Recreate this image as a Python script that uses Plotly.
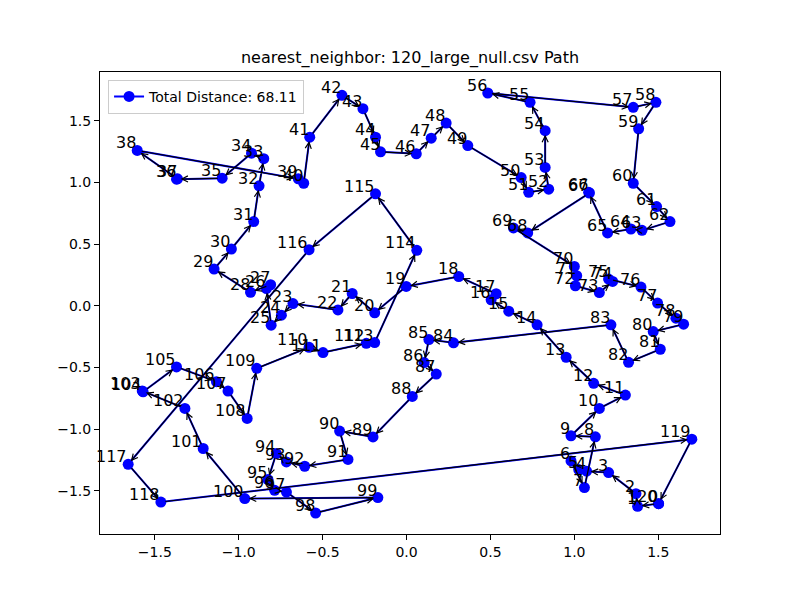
import plotly.graph_objects as go

# tour order (nearest neighbour), coordinates
xs = [1.502, 1.377, 1.367, 1.204, 1.073, 1.026, 0.98, 1.06, 1.125, 0.98,
      1.149, 1.304, 1.115, 0.951, 0.778, 0.609, 0.504, 0.534, 0.311, -0.002,
      -0.19, -0.324, -0.409, -0.677, -0.746, -0.807, -0.835, -0.81, -0.93, -1.147,
      -1.044, -0.911, -0.879, -0.851, -0.924, -1.099, -1.371, -1.365, -1.605, -0.645,
      -0.613, -0.577, -0.385, -0.26, -0.185, -0.155, 0.058, 0.147, 0.236, 0.365,
      0.683, 0.728, 0.847, 0.826, 0.826, 0.736, 0.484, 1.351, 1.486, 1.383,
      1.351, 1.49, 1.57, 1.403, 1.337, 1.198, 1.085, 1.09, 0.722, 0.637,
      1.0, 1.014, 1.006, 1.149, 1.228, 1.204, 1.397, 1.496, 1.605, 1.651,
      1.47, 1.512, 1.323, 1.218, 0.28, 0.133, 0.105, 0.177, 0.034, -0.2,
      -0.399, -0.349, -0.607, -0.716, -0.776, -0.826, -0.786, -0.716, -0.542, -0.171,
      -0.964, -1.212, -1.321, -1.575, -1.57, -1.371, -1.133, -1.064, -0.95, -0.893,
      -0.581, -0.498, -0.24, -0.19, 0.061, -0.185, -0.581, -1.659, -1.464, 1.70]
ys = [-1.604, -1.626, -1.523, -1.352, -1.341, -1.328, -1.258, -1.474, -1.062, -1.054,
      -0.832, -0.724, -0.628, -0.417, -0.154, -0.043, 0.049, 0.098, 0.238, 0.157,
      -0.056, 0.10, -0.033, 0.018, -0.076, -0.157, 0.14, 0.171, 0.11, 0.298,
      0.461, 0.683, 0.973, 1.193, 1.238, 1.035, 1.027, 1.03, 1.26, 1.03,
      0.994, 1.368, 1.707, 1.599, 1.368, 1.249, 1.233, 1.36, 1.482, 1.30,
      1.04, 0.921, 0.946, 1.122, 1.42, 1.65, 1.726, 1.61, 1.65, 1.436,
      0.994, 0.805, 0.683, 0.612, 0.623, 0.591, 0.921, 0.915, 0.591, 0.632,
      0.32, 0.244, 0.163, 0.108, 0.198, 0.217, 0.152, 0.022, -0.1, -0.149,
      -0.209, -0.352, -0.458, -0.154, -0.30, -0.274, -0.46, -0.553, -0.735, -1.063,
      -1.016, -1.246, -1.301, -1.266, -1.198, -1.409, -1.496, -1.51, -1.68, -1.555,
      -1.563, -1.157, -0.832, -0.69, -0.697, -0.495, -0.615, -0.691, -0.913, -0.507,
      -0.336, -0.379, -0.304, -0.298, 0.45, 0.908, 0.455, -1.285, -1.591, -1.081]
total_distance = 68.11

# close the tour
px = xs + [xs[0]]
py = ys + [ys[0]]
labels = [str(i) for i in range(len(px))]

font = "DejaVu Sans"

fig = go.Figure()
fig.add_trace(go.Scatter(x=px, y=py, mode="lines+markers",
                         line=dict(color="blue", width=2),
                         marker=dict(color="blue", size=11),
                         name=f"Total Distance: {total_distance:.2f}",
                         hoverinfo="skip"))

# arrows between consecutive stops
for i in range(len(px) - 1):
    fig.add_annotation(x=px[i + 1], y=py[i + 1], ax=px[i], ay=py[i],
                       xref="x", yref="y", axref="x", ayref="y",
                       showarrow=True, arrowhead=5, arrowsize=1.0, arrowwidth=1.2,
                       arrowcolor="black", standoff=4, startstandoff=3, text="")

# stop numbers, right-aligned on the point, sitting on it
for xv, yv, lab in zip(px, py, labels):
    fig.add_annotation(x=xv, y=yv, xref="x", yref="y", text=lab, showarrow=False,
                       xanchor="right", yanchor="bottom", xshift=1, yshift=-4,
                       font=dict(family=font, size=16, color="black"))

# 5% margins like matplotlib
xmin, xmax = min(px), max(px)
ymin, ymax = min(py), max(py)
dx = (xmax - xmin) * 0.05
dy = (ymax - ymin) * 0.05

ticks = [-1.5, -1.0, -0.5, 0.0, 0.5, 1.0, 1.5]
axis = dict(showline=True, linecolor="black", linewidth=1, mirror=True,
            ticks="outside", ticklen=5, tickcolor="black", showgrid=False,
            zeroline=False, tickvals=ticks, tickformat=".1f",
            tickfont=dict(family=font, size=14, color="black"))

fig.update_layout(
    width=800, height=600,
    margin=dict(l=92, r=88, t=64, b=74),
    plot_bgcolor="white", paper_bgcolor="white",
    title=dict(text="nearest_neighbor: 120_large_null.csv Path",
               x=0.5025, xanchor="center", y=0.917, yanchor="middle",
               font=dict(family=font, size=16, color="black")),
    xaxis=dict(range=[xmin - dx, xmax + dx], **axis),
    yaxis=dict(range=[ymin - dy, ymax + dy], **axis),
    legend=dict(x=0.013, y=0.983, xanchor="left", yanchor="top",
                bgcolor="rgba(255,255,255,0.8)", bordercolor="#cccccc", borderwidth=1,
                font=dict(family=font, size=14, color="black"), itemwidth=30),
    showlegend=True,
)

fig.write_html("out.html")
